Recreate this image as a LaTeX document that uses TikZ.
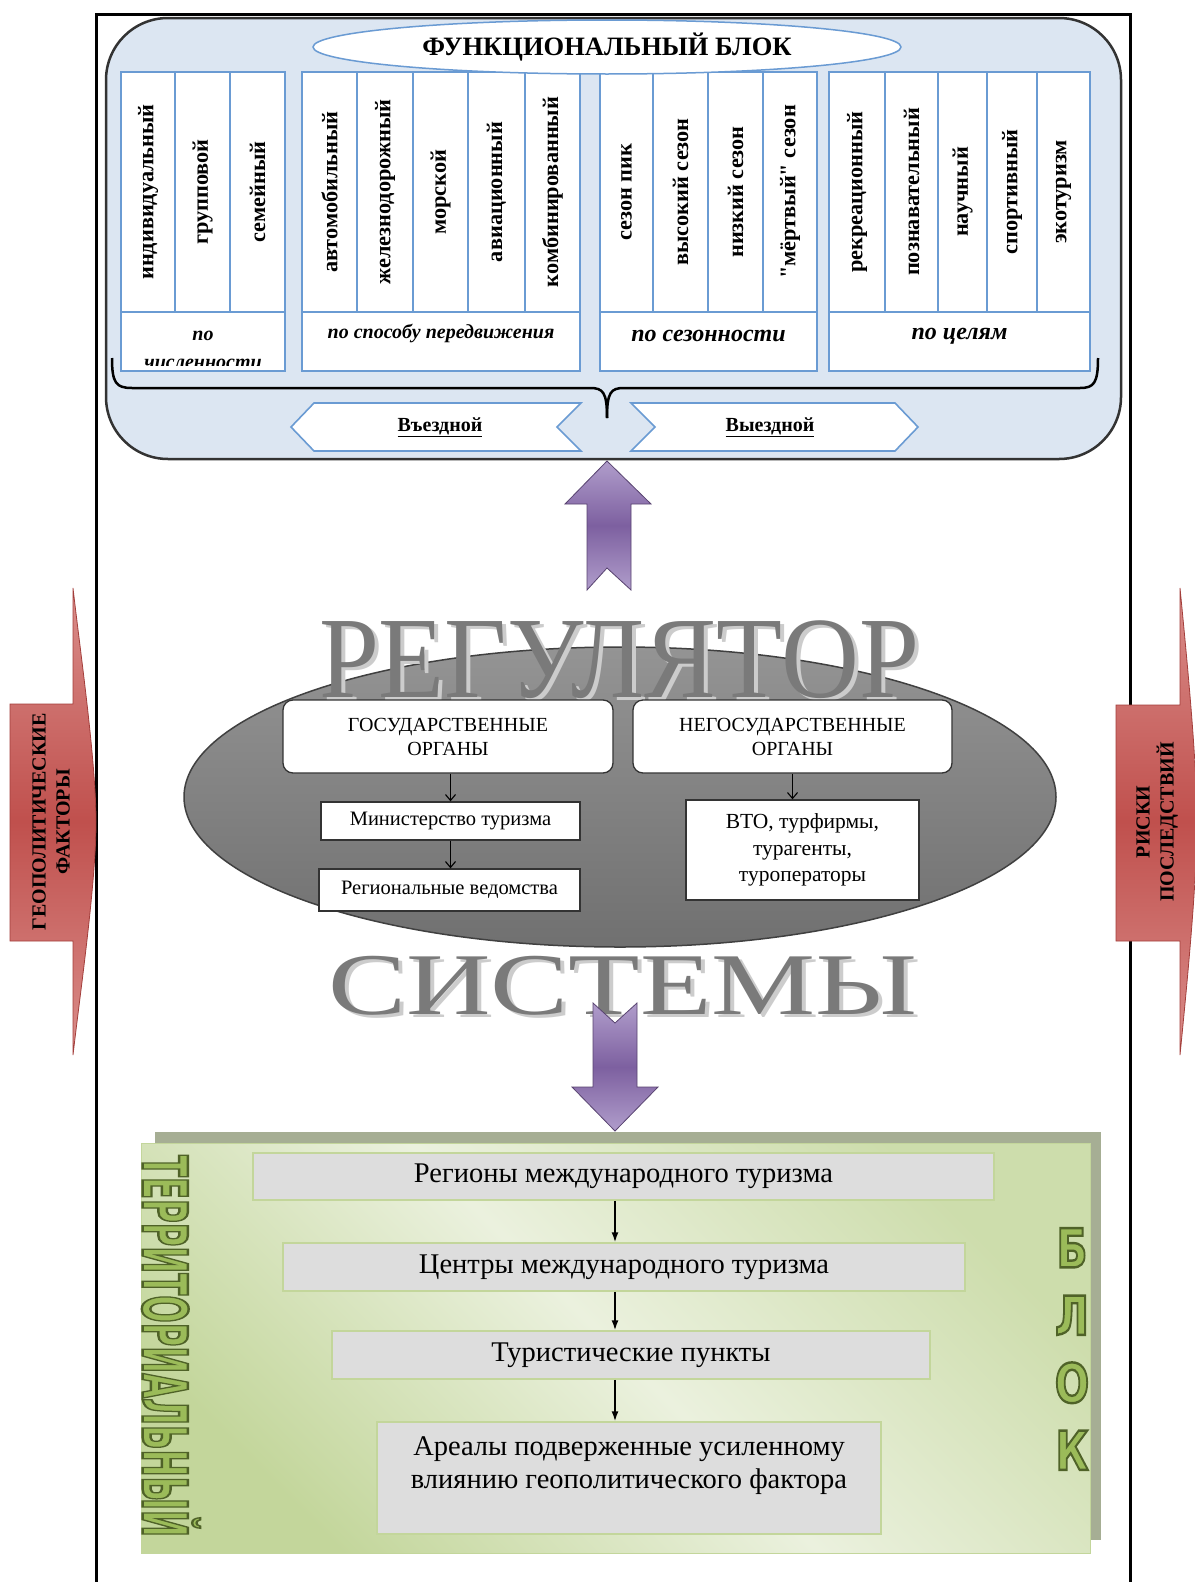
\documentclass[tikz,border=0pt]{standalone}
\usepackage{fontspec}
\setmainfont{Liberation Serif}
\newfontfamily\artfont{DejaVu Sans}
\usetikzlibrary{arrows.meta,shapes.geometric}
\definecolor{fbfill}{HTML}{DCE6F2}
\definecolor{colline}{HTML}{6A9BD3}
\definecolor{redA}{HTML}{C0504D}
\definecolor{redL}{HTML}{DA8E8B}
\definecolor{redD}{HTML}{A33E3B}
\definecolor{purA}{HTML}{7D60A0}
\definecolor{purL}{HTML}{B09DCB}
\definecolor{grnA}{HTML}{C3D69B}
\definecolor{grnL}{HTML}{EBF1DE}
\definecolor{grnD}{HTML}{4F6228}
\definecolor{grnT}{HTML}{9BBB59}
\definecolor{shd}{HTML}{A6AE94}
\definecolor{boxgray}{HTML}{DDDDDD}
\newcommand\fsz[2]{\fontsize{#1}{#2}\selectfont}
\newcommand\outlon{\special{pdf:literal direct 2 Tr 2.4 w 0.31 0.384 0.157 RG}}
\newcommand\outloff{\special{pdf:literal direct 0 Tr}}
\begin{document}
\begin{tikzpicture}[x=1pt,y=-1pt,
  colbox/.style={draw=colline, line width=1.6pt, fill=white, rotate=90, inner sep=0pt,
     minimum width=240pt, font=\bfseries\fsz{22.3}{26}},
  lblbox/.style={draw=colline, line width=1.6pt, fill=white, inner sep=0pt, minimum height=59pt},
  lbltext/.style={inner sep=0pt, align=center},
  chev/.style={draw=colline, line width=1.6pt, fill=white},
  redarr/.style={draw=redD, line width=0.8pt, top color=redL, bottom color=redL, middle color=redA},
  purp/.style={draw=purA!70!black, line width=0.8pt, top color=purL, bottom color=purL, middle color=purA},
  gbox/.style={draw=black!80, line width=1.3pt, fill=white, rounded corners=10pt, align=center,
     inner sep=0pt, font=\fsz{20}{24}},
  sbox/.style={draw=black!80, line width=1.3pt, fill=white, align=center, inner sep=0pt, font=\fsz{20.5}{27}},
  smarr/.style={-{Straight Barb[length=6pt,width=10pt]}, line width=1.1pt, black},
  tbox/.style={draw=grnA, line width=1.5pt, fill=boxgray, inner sep=0pt, align=center, font=\fsz{28.5}{33}},
  garr/.style={-{Latex[length=10pt,width=7pt]}, line width=1.5pt, black},
  bigword/.style={anchor=base, inner sep=0pt},
  terrst/.style={rotate=-90, xscale=0.52, inner sep=0pt, text=grnT, font=\artfont\bfseries\fsz{62}{62}},
  blokst/.style={align=center, inner sep=0pt, xscale=0.75, text=grnT, font=\artfont\bfseries\fsz{54}{67.5}}
]
\useasboundingbox (0,0) rectangle (1194,1582);
\fill[white] (0,0) rectangle (1194,1582);

% outer frame
\draw[line width=3pt, black] (96,1600) -- (96,14) -- (1130,14) -- (1130,1600);

% red side arrows
\path[redarr] (10,704) -- (73,704) -- (73,588) .. controls (80,650) and (96,760) .. (96,822)
   .. controls (96,884) and (80,994) .. (73,1055) -- (73,941) -- (10,941) -- cycle;
\node[rotate=90, align=center, font=\bfseries\fsz{20}{24}] (geo) at (51,822) {ГЕОПОЛИТИЧЕСКИЕ\\ФАКТОРЫ};
\path[redarr] (1116,705) -- (1180,705) -- (1180,588) .. controls (1186,650) and (1197,760) .. (1197,822)
   .. controls (1197,884) and (1186,994) .. (1180,1055) -- (1180,941) -- (1116,941) -- cycle;
\node[rotate=90, align=center, font=\bfseries\fsz{20}{24}] (risk) at (1157,822) {РИСКИ\\ПОСЛЕДСТВИЙ};

% functional block
\node[draw=black!80, line width=2.5pt, rounded corners=62pt, fill=fbfill, minimum width=1015pt,
      minimum height=441pt, inner sep=0pt] (fb) at (613.5,238.5) {};

% columns group 1
\node[colbox, minimum height=54pt] (c1a) at (148,192) {индивидуальный};
\node[colbox, minimum height=55pt] (c1b) at (202.5,192) {групповой};
\node[colbox, minimum height=55pt] (c1c) at (257.5,192) {семейный};
% group 2
\node[colbox, minimum height=55pt] (c2a) at (329.5,192) {автомобильный};
\node[colbox, minimum height=56pt] (c2b) at (385,192) {железнодорожный};
\node[colbox, minimum height=55pt] (c2c) at (440.5,192) {морской};
\node[colbox, minimum height=57pt] (c2d) at (496.5,192) {авиационный};
\node[colbox, minimum height=55pt] (c2e) at (552.5,192) {комбинированный};
% group 3
\node[colbox, minimum height=53pt] (c3a) at (626.5,192) {сезон пик};
\node[colbox, minimum height=55pt] (c3b) at (680.5,192) {высокий сезон};
\node[colbox, minimum height=55pt] (c3c) at (735.5,192) {низкий сезон};
\node[colbox, minimum height=54pt] (c3d) at (790,192) {\textquotedbl мёртвый\textquotedbl{} сезон};
% group 4
\node[colbox, minimum height=56pt] (c4a) at (857,192) {рекреационный};
\node[colbox, minimum height=53pt] (c4b) at (911.5,192) {познавательный};
\node[colbox, minimum height=49pt] (c4c) at (962.5,192) {научный};
\node[colbox, minimum height=50pt] (c4d) at (1012,192) {спортивный};
\node[colbox, minimum height=53pt] (c4e) at (1063.5,192) {экотуризм};

% label boxes
\node[lblbox, minimum width=164pt] (g1) at (203,341.5) {};
\node[lblbox, minimum width=278pt] (g2) at (441,341.5) {};
\node[lblbox, minimum width=217pt] (g3) at (708.5,341.5) {};
\node[lblbox, minimum width=261pt] (g4) at (959.5,341.5) {};
\begin{scope}
\clip (121,312) rectangle (285,365);
\node[lbltext, font=\bfseries\itshape\fsz{20}{28}] (l1) at (203,350) {по\\численности};
\end{scope}
\node[lbltext, font=\bfseries\itshape\fsz{20}{22}] (l2) at (441,333) {по способу передвижения};
\node[lbltext, font=\bfseries\itshape\fsz{24}{28}] (l3) at (708.5,336) {по сезонности};
\node[lbltext, font=\bfseries\itshape\fsz{24}{28}] (l4) at (959.5,336) {по целям};

% title ellipse
\node[ellipse, draw=colline, line width=1.5pt, fill=white, minimum width=588pt, minimum height=54pt,
      inner sep=0pt, font=\bfseries\fsz{26.5}{30}] (title) at (607,47) {ФУНКЦИОНАЛЬНЫЙ БЛОК};

% brace
\draw[line width=2.5pt, black] (112,358) .. controls (112,383) and (116,388) .. (132,388) -- (590,388)
   .. controls (603,388) and (607,392) .. (607,418);
\draw[line width=2.5pt, black] (607,418) .. controls (607,392) and (611,388) .. (624,388) -- (1080,388)
   .. controls (1094,388) and (1098,383) .. (1098,358);

% chevrons
\path[chev] (291,427) -- (314,403) -- (581,403) -- (557,427) -- (581,451) -- (314,451) -- cycle;
\path[chev] (631,403) -- (895,403) -- (918,427) -- (895,451) -- (631,451) -- (655,427) -- cycle;
\node[font=\bfseries\fsz{20}{22}] (vin) at (440,427) {\underline{Въездной}};
\node[font=\bfseries\fsz{20}{22}] (vout) at (770,427) {\underline{Выездной}};

% purple up arrow
\path[purp] (607,461) -- (651,504) -- (631,504) -- (631,590) -- (607,568) -- (587,590) -- (587,504) -- (565,504) -- cycle;

% regulator ellipse
\node[ellipse, draw=black!75, line width=1.5pt, top color=black!42, bottom color=black!56,
      minimum width=872pt, minimum height=300pt, inner sep=0pt] (reg) at (620,797) {};
\node[bigword, font=\fsz{116}{116}, xscale=0.93, text=black!20] (regs) at (623,700) {РЕГУЛЯТОР};
\node[bigword, font=\fsz{116}{116}, xscale=0.93, text=black!52] (regw) at (619,697) {РЕГУЛЯТОР};

\node[gbox, minimum width=330pt, minimum height=73pt] (gos) at (448,736.5) {ГОСУДАРСТВЕННЫЕ\\ОРГАНЫ};
\node[gbox, minimum width=319pt, minimum height=73pt] (ngos) at (792.5,736.5) {НЕГОСУДАРСТВЕННЫЕ\\ОРГАНЫ};
\node[sbox, minimum width=259pt, minimum height=38pt] (mint) at (450.5,821) {Министерство туризма};
\node[sbox, minimum width=261pt, minimum height=42pt] (regv) at (449.5,890) {Региональные ведомства};
\node[sbox, minimum width=233pt, minimum height=100pt, font=\fsz{21.5}{26.5}] (vto) at (802.5,850) {ВТО, турфирмы,\\турагенты,\\туроператоры};
\draw[smarr] (gos.south -| mint.north) -- (mint.north);
\draw[smarr] (mint.south) -- (mint.south |- regv.north);
\draw[smarr] (ngos.south) -- (ngos.south |- vto.north);

\node[bigword, font=\fsz{88}{88}, xscale=1.33, text=black!20] (syss) at (627,1017) {СИСТЕМЫ};
\node[bigword, font=\fsz{88}{88}, xscale=1.33, text=black!52] (sysw) at (623,1014) {СИСТЕМЫ};

% purple down arrow
\path[purp] (593,1003) -- (615,1023) -- (637,1003) -- (637,1087) -- (658,1087) -- (615,1131) -- (572,1087) -- (593,1087) -- cycle;

% territorial block
\fill[shd] (155,1132) rectangle (1101,1540);
\node[draw=grnA, line width=1pt, left color=grnA, right color=grnA!75!grnL, middle color=grnL,
      shading angle=135, minimum width=949pt, minimum height=410pt, inner sep=0pt] (tb) at (615.5,1348) {};

\node[tbox, minimum width=741pt, minimum height=47pt] (r1) at (623.5,1176.5) {Регионы международного туризма};
\node[tbox, minimum width=682pt, minimum height=48pt] (r2) at (624,1267) {Центры международного туризма};
\node[tbox, minimum width=598pt, minimum height=48pt] (r3) at (631,1355) {Туристические пункты};
\node[tbox, minimum width=504pt, minimum height=112pt] (r4) at (629,1478) {};
\node[inner sep=0pt, align=center, font=\fsz{28.5}{33}] (r4t) at (629,1466) {Ареалы подверженные усиленному\\влиянию геополитического фактора};
\coordinate (ax) at (615,1300);
\draw[garr] (r1.south -| ax) -- (r2.north -| ax);
\draw[garr] (r2.south -| ax) -- (r3.north -| ax);
\draw[garr] (r3.south -| ax) -- (r4.north -| ax);

% outlined word-art letters
\node[terrst] (terr) at (171,1346) {\outlon ТЕРРИТОРИАЛЬНЫЙ\outloff};
\node[blokst] (blok) at (1072,1349) {\outlon Б\\Л\\О\\К\outloff};
\end{tikzpicture}
\end{document}
